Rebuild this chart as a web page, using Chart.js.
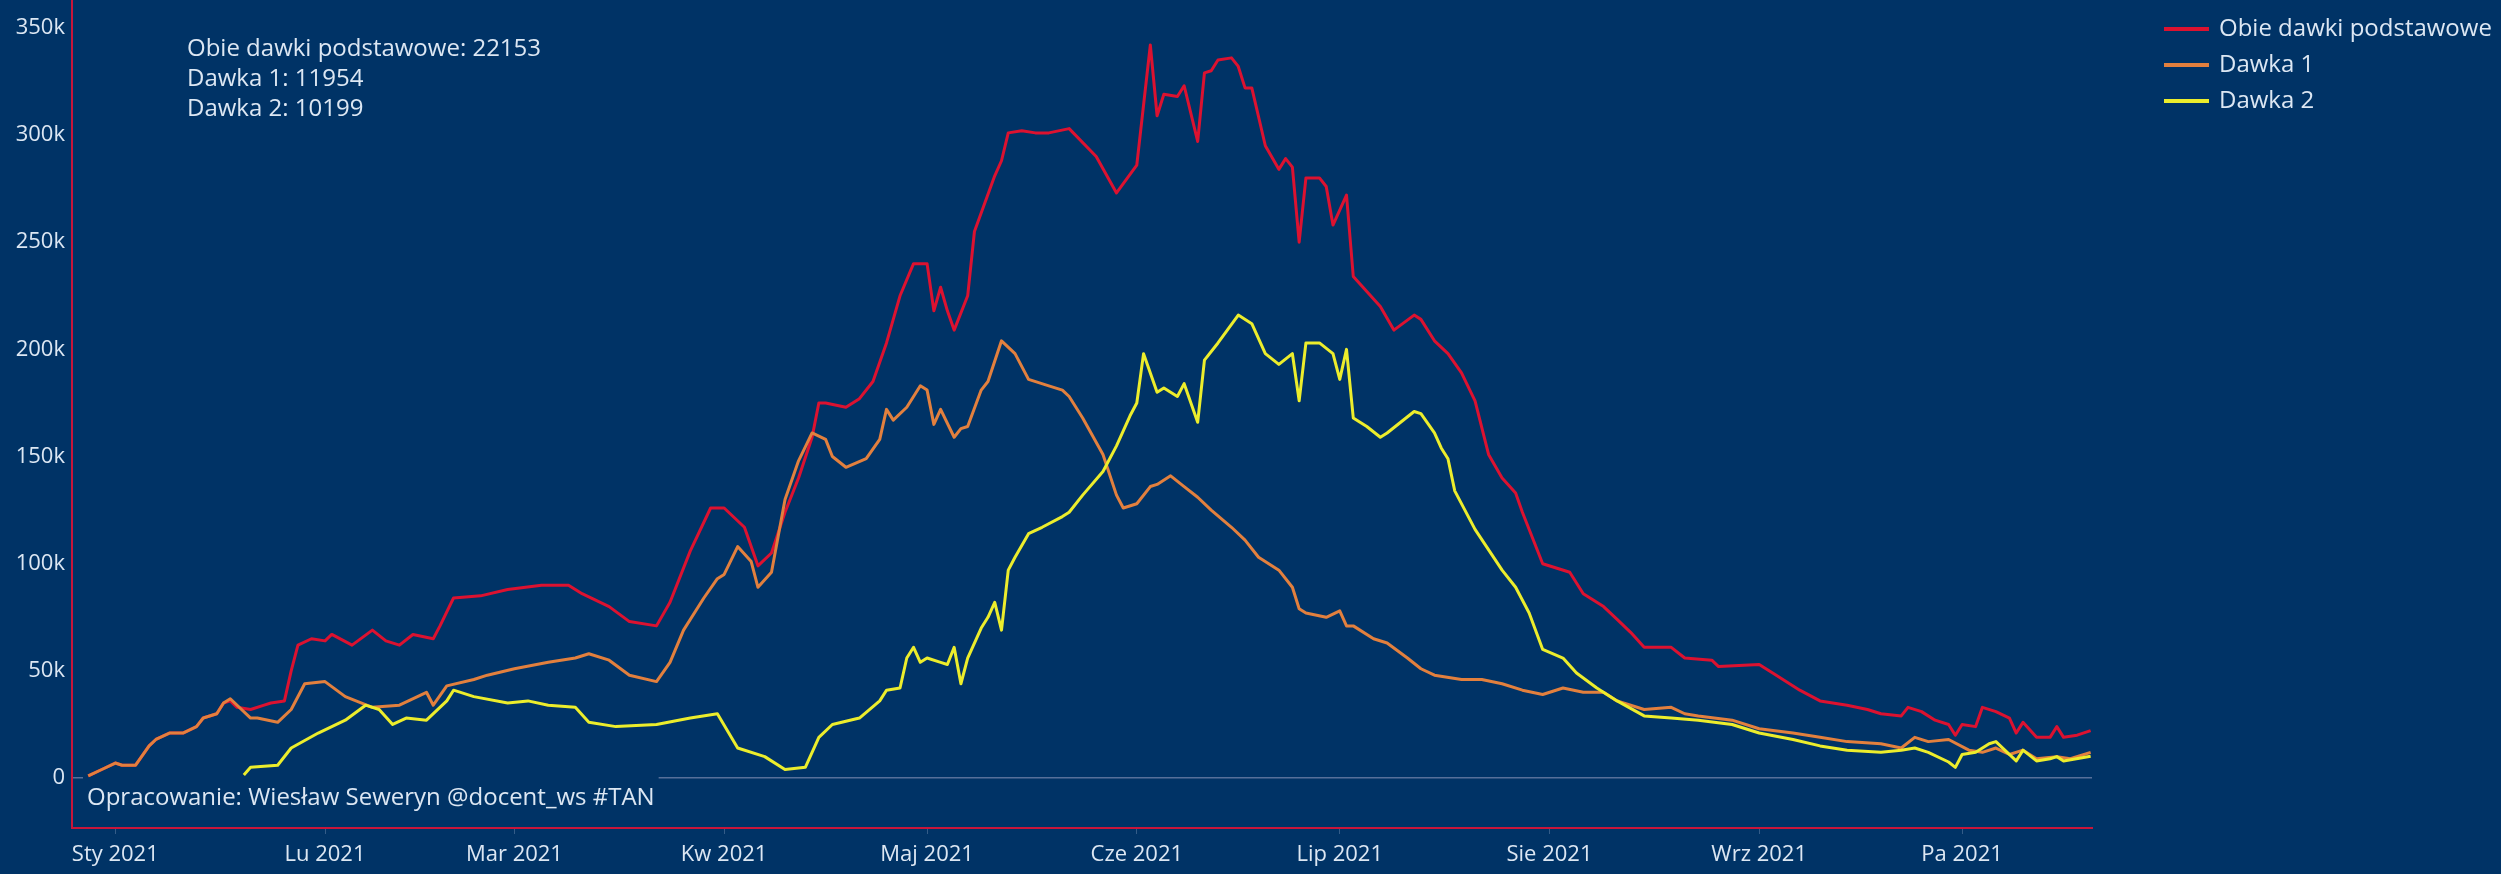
<!DOCTYPE html>
<html>
<head>
<meta charset="utf-8">
<script src="https://cdn.jsdelivr.net/npm/chart.js@4.4.1/dist/chart.umd.min.js"></script>
<style>
  html, body { margin: 0; padding: 0; background: #003366; }
  #box { width: 2501px; height: 874px; position: relative; }
</style>
</head>
<body>
<div id="box"><canvas id="szczepienia"></canvas></div>
<script>
// dni liczone od 1 stycznia 2021 (0 = 1.01.2021)
const miesiace = ['Sty 2021', 'Lu 2021', 'Mar 2021', 'Kw 2021', 'Maj 2021', 'Cze 2021', 'Lip 2021', 'Sie 2021', 'Wrz 2021', 'Pa 2021'];
const dniMiesiecy = [0, 31, 59, 90, 120, 151, 181, 212, 243, 273];
const yTicks = [0, 50000, 100000, 150000, 200000, 250000, 300000, 350000];
const serie = ['Obie dawki podstawowe', 'Dawka 1', 'Dawka 2'];
const kolory = ['#dc1230', '#e2803e', '#eced2c'];

const dniObie = [-4, -2, 0, 1, 3, 5, 6, 8, 10, 12, 13, 15, 16, 17, 18, 20, 22, 23, 25, 26, 27, 29, 31, 32, 35, 38, 40, 42, 44, 47, 48, 50, 54, 58, 63, 67, 69, 73, 76, 80, 82, 85, 88, 90, 93, 95, 97, 99, 101, 103, 104, 105, 108, 110, 112, 114, 116, 118, 120, 121, 122, 123, 124, 126, 127, 130, 131, 132, 134, 136, 138, 141, 145, 148, 151, 153, 154, 155, 157, 158, 160, 161, 162, 163, 165, 166, 167, 168, 170, 172, 173, 174, 175, 176, 178, 179, 180, 182, 183, 187, 189, 192, 193, 195, 197, 199, 201, 203, 205, 207, 208, 211, 213, 215, 217, 218, 220, 222, 224, 226, 229, 230, 232, 236, 237, 243, 245, 249, 252, 256, 259, 261, 264, 265, 267, 269, 271, 272, 273, 275, 276, 278, 280, 281, 282, 284, 286, 287, 288, 290, 292];
const obie = [1000, 4000, 7000, 6000, 6000, 15000, 18000, 21000, 21000, 24000, 28000, 30000, 35000, 36000, 33000, 32000, 34000, 35000, 36000, 50000, 62000, 65000, 64000, 67000, 62000, 69000, 64000, 62000, 67000, 65000, 71000, 84000, 85000, 88000, 90000, 90000, 86000, 80000, 73000, 71000, 82000, 106000, 126000, 126000, 117000, 99000, 105000, 124000, 140000, 159000, 175000, 175000, 173000, 177000, 185000, 203000, 225000, 240000, 240000, 218000, 229000, 218000, 209000, 225000, 255000, 281000, 288000, 301000, 302000, 301000, 301000, 303000, 290000, 273000, 286000, 342000, 309000, 319000, 318000, 323000, 297000, 329000, 330000, 335000, 336000, 332000, 322000, 322000, 295000, 284000, 289000, 285000, 250000, 280000, 280000, 276000, 258000, 272000, 234000, 220000, 209000, 216000, 214000, 204000, 198000, 189000, 176000, 151000, 140000, 133000, 124000, 100000, 98000, 96000, 86000, 84000, 80000, 74000, 68000, 61000, 61000, 61000, 56000, 55000, 52000, 53000, 49000, 41000, 36000, 34000, 32000, 30000, 29000, 33000, 31000, 27000, 25000, 20000, 25000, 24000, 33000, 31000, 28000, 21000, 26000, 19000, 19000, 24000, 19000, 20000, 22153];

const dniDawka1 = [-4, -2, 0, 1, 3, 5, 6, 8, 10, 12, 13, 15, 16, 17, 20, 21, 24, 26, 28, 31, 34, 38, 42, 46, 47, 49, 53, 55, 59, 64, 68, 70, 73, 76, 80, 82, 84, 87, 89, 90, 92, 94, 95, 97, 99, 101, 103, 105, 106, 108, 111, 113, 114, 115, 117, 119, 120, 121, 122, 124, 125, 126, 128, 129, 131, 133, 135, 138, 140, 141, 143, 146, 148, 149, 151, 153, 154, 156, 158, 160, 162, 165, 167, 169, 172, 174, 175, 176, 179, 181, 182, 183, 186, 188, 191, 193, 195, 199, 202, 205, 208, 211, 214, 217, 220, 222, 226, 230, 232, 234, 239, 243, 248, 252, 256, 261, 264, 266, 268, 271, 274, 276, 278, 280, 282, 284, 287, 289, 292];
const dawka1 = [1000, 4000, 7000, 6000, 6000, 15000, 18000, 21000, 21000, 24000, 28000, 30000, 35000, 37000, 28000, 28000, 26000, 32000, 44000, 45000, 38000, 33000, 34000, 40000, 34000, 43000, 46000, 48000, 51000, 54000, 56000, 58000, 55000, 48000, 45000, 54000, 69000, 84000, 93000, 95000, 108000, 101000, 89000, 96000, 130000, 148000, 161000, 158000, 150000, 145000, 149000, 158000, 172000, 167000, 173000, 183000, 181000, 165000, 172000, 159000, 163000, 164000, 181000, 185000, 204000, 198000, 186000, 183000, 181000, 178000, 168000, 151000, 132000, 126000, 128000, 136000, 137000, 141000, 136000, 131000, 125000, 117000, 111000, 103000, 97000, 89000, 79000, 77000, 75000, 78000, 71000, 71000, 65000, 63000, 56000, 51000, 48000, 46000, 46000, 44000, 41000, 39000, 42000, 40000, 40000, 36000, 32000, 33000, 30000, 29000, 27000, 23000, 21000, 19000, 17000, 16000, 14000, 19000, 17000, 18000, 13000, 12000, 14000, 11000, 13000, 9000, 10000, 9000, 11954];

const dniDawka2 = [19, 20, 24, 26, 30, 34, 37, 39, 41, 43, 46, 49, 50, 53, 58, 61, 64, 68, 70, 74, 80, 85, 89, 92, 96, 99, 102, 104, 106, 110, 113, 114, 116, 117, 118, 119, 120, 122, 123, 124, 125, 126, 128, 129, 130, 131, 132, 133, 135, 137, 140, 141, 143, 146, 148, 150, 151, 152, 154, 155, 157, 158, 160, 161, 163, 166, 168, 170, 172, 174, 175, 176, 178, 180, 181, 182, 183, 185, 187, 188, 190, 192, 193, 195, 196, 197, 198, 201, 205, 207, 209, 211, 214, 216, 219, 222, 226, 230, 234, 239, 243, 248, 252, 256, 261, 264, 266, 268, 271, 272, 273, 275, 277, 278, 279, 281, 282, 284, 286, 287, 288, 292];
const dawka2 = [1400, 5000, 6000, 14000, 21000, 27000, 34000, 32000, 25000, 28000, 27000, 36000, 41000, 38000, 35000, 36000, 34000, 33000, 26000, 24000, 25000, 28000, 30000, 14000, 10000, 4000, 5000, 19000, 25000, 28000, 36000, 41000, 42000, 56000, 61000, 54000, 56000, 54000, 53000, 61000, 44000, 56000, 70000, 75000, 82000, 69000, 97000, 103000, 114000, 117000, 122000, 124000, 132000, 143000, 155000, 169000, 175000, 198000, 180000, 182000, 178000, 184000, 166000, 195000, 203000, 216000, 212000, 198000, 193000, 198000, 176000, 203000, 203000, 198000, 186000, 200000, 168000, 164000, 159000, 161000, 166000, 171000, 170000, 161000, 154000, 149000, 134000, 116000, 97000, 89000, 77000, 60000, 56000, 49000, 42000, 36000, 29000, 28000, 27000, 25000, 21000, 18000, 15000, 13000, 12000, 13000, 14000, 12000, 7500, 5000, 11000, 12000, 16000, 17000, 14000, 8000, 13000, 8000, 9000, 10000, 8000, 10199];

const TLO = '#003366';
const TEKST = '#dce7f3';
const FONT = '"Open Sans", sans-serif';

function punkty(dni, wartosci) {
    return dni.map((d, i) => ({ x: d, y: wartosci[i] }));
}

const nakladki = {
    id: 'nakladki',
    beforeDatasetsDraw(chart) {
        const { ctx, chartArea } = chart;
        const txt = 'Opracowanie: Wiesław Seweryn @docent_ws #TAN';
        ctx.save();
        ctx.font = '24px ' + FONT;
        const w = ctx.measureText(txt).width;
        const x = chartArea.left + 15;
        const y = chartArea.bottom - 30;
        ctx.fillStyle = TLO;
        ctx.fillRect(x - 4, y - 22, w + 8, 42);
        ctx.fillStyle = TEKST;
        ctx.textBaseline = 'middle';
        ctx.fillText(txt, x, y);
        ctx.restore();
    },
    afterDraw(chart) {
        const { ctx } = chart;
        const ostatnie = chart.data.datasets.map(d => d.data[d.data.length - 1].y);
        ctx.save();
        ctx.font = '24px ' + FONT;
        ctx.textBaseline = 'middle';
        ctx.fillStyle = TEKST;
        serie.forEach((s, i) => {
            ctx.fillText(s + ': ' + ostatnie[i], 187, 49 + i * 30);
        });
        // legenda
        serie.forEach((s, i) => {
            const y = 29 + i * 36;
            ctx.strokeStyle = kolory[i];
            ctx.lineWidth = 4;
            ctx.beginPath();
            ctx.moveTo(2164, y);
            ctx.lineTo(2209, y);
            ctx.stroke();
            ctx.fillStyle = TEKST;
            ctx.fillText(s, 2219, y);
        });
        ctx.restore();
    }
};

new Chart(document.getElementById('szczepienia').getContext('2d'), {
    type: 'line',
    data: {
        datasets: [
            { label: serie[0], data: punkty(dniObie, obie), borderColor: kolory[0], order: 2 },
            { label: serie[1], data: punkty(dniDawka1, dawka1), borderColor: kolory[1], order: 1 },
            { label: serie[2], data: punkty(dniDawka2, dawka2), borderColor: kolory[2], order: 0 }
        ]
    },
    options: {
        responsive: true,
        maintainAspectRatio: false,
        animation: false,
        layout: { padding: { left: 0, top: 0, right: 409, bottom: 0 } },
        elements: {
            line: { borderWidth: 3, tension: 0, borderJoinStyle: 'round', fill: false },
            point: { radius: 0 }
        },
        plugins: {
            legend: { display: false },
            tooltip: { enabled: false }
        },
        scales: {
            x: {
                type: 'linear',
                min: -6.4,
                max: 292.2,
                border: { color: '#c8163a', width: 2 },
                grid: { drawOnChartArea: false, drawTicks: true, tickLength: 6, color: 'rgba(150,170,200,0.35)' },
                afterBuildTicks: s => { s.ticks = dniMiesiecy.map(v => ({ value: v })); },
                ticks: {
                    autoSkip: false,
                    maxRotation: 0,
                    padding: 8,
                    color: TEKST,
                    font: { family: FONT, size: 22 },
                    callback: v => miesiace[dniMiesiecy.indexOf(v)]
                },
                afterFit: s => { s.height = 46; s.paddingLeft = 0; s.paddingRight = 0; }
            },
            y: {
                min: -23300,
                max: 363000,
                border: { color: '#c8163a', width: 2 },
                grid: {
                    drawTicks: false,
                    lineWidth: 1.5,
                    color: c => c.tick && c.tick.value === 0 ? '#56709a' : 'transparent'
                },
                afterBuildTicks: s => { s.ticks = yTicks.map(v => ({ value: v })); },
                ticks: {
                    padding: 7,
                    color: TEKST,
                    font: { family: FONT, size: 22 },
                    callback: v => v === 0 ? '0' : (v / 1000) + 'k'
                },
                afterFit: s => { s.width = 72; s.paddingTop = 0; s.paddingBottom = 0; }
            }
        }
    },
    plugins: [nakladki]
});
</script>
</body>
</html>
